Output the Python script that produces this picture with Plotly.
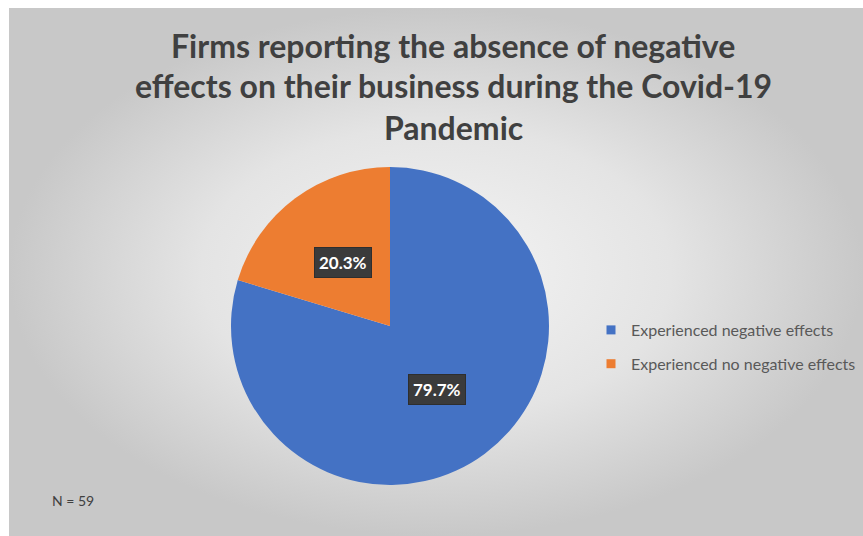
import math
import plotly.graph_objects as go

# Survey result: firms reporting effects of the pandemic on their business
labels = ["Experienced negative effects", "Experienced no negative effects"]
counts = [47, 12]
colors = ["#4472C4", "#ED7D31"]
title_lines = [
    "Firms reporting the absence of negative",
    "effects on their business during the Covid-19",
    "Pandemic",
]

W, H = 863, 536
total = sum(counts)

fig = go.Figure()

# Chart area background: light centre fading to grey edges
fig.add_trace(go.Scatter(
    x=[9, 863, 863, 9, 9], y=[8, 8, 536, 536, 8],
    mode="lines", line=dict(width=0), fill="toself",
    fillgradient=dict(type="radial",
                      colorscale=[[0, "#f4f4f4"], [0.55, "#e4e4e4"], [1, "#c8c8c8"]]),
    hoverinfo="skip", showlegend=False, xaxis="x", yaxis="y",
))

# Pie
dom_x = [231 / W, 549 / W]
dom_y = [51 / H, 369 / H]
fig.add_trace(go.Pie(
    labels=labels, values=counts, sort=False, direction="clockwise", rotation=0,
    marker=dict(colors=colors, line=dict(width=0)),
    textinfo="none", hoverinfo="label+percent", showlegend=False,
    domain=dict(x=dom_x, y=dom_y),
))

# Legend entries
for lab, col in zip(labels, colors):
    fig.add_trace(go.Scatter(
        x=[None], y=[None], mode="markers", name=lab, legendgroup=lab,
        marker=dict(symbol="square", size=9, color=col),
    ))

# Percentage labels in dark boxes at half the radius of each slice
cx = (dom_x[0] + dom_x[1]) / 2
cy = (dom_y[0] + dom_y[1]) / 2
radius_px = min((dom_x[1] - dom_x[0]) * W, (dom_y[1] - dom_y[0]) * H) / 2
cum = 0
annotations = []
for v in counts:
    mid = (cum + v / 2) / total * 2 * math.pi
    cum += v
    px = cx + 0.5 * radius_px * math.sin(mid) / W
    py = cy + 0.5 * radius_px * math.cos(mid) / H
    annotations.append(dict(
        x=px, y=py, xref="paper", yref="paper",
        text=f"<b>{v / total * 100:.1f}%</b>",
        xanchor="center", yanchor="middle",
        showarrow=False, font=dict(family="Lato", size=17, color="white"),
        bgcolor="#3b3b3b", bordercolor="#2e2e2e", borderwidth=1, borderpad=4,
    ))

# Title lines
for i, line in enumerate(title_lines):
    annotations.append(dict(
        x=453 / W, y=1 - (45 + 41 * i) / H, xref="paper", yref="paper",
        text=f"<b>{line}</b>", showarrow=False, xanchor="center", yanchor="middle",
        font=dict(family="Lato", size=32, color="#404040"),
    ))

annotations.append(dict(
    x=50 / W, y=1 - 500 / H, xref="paper", yref="paper",
    xanchor="left", yanchor="middle",
    text=f"N = {total}", showarrow=False,
    font=dict(family="Lato", size=14, color="#404040"),
))

fig.update_layout(
    width=W, height=H, autosize=False,
    margin=dict(l=0, r=0, t=0, b=0, pad=0),
    paper_bgcolor="white", plot_bgcolor="rgba(0,0,0,0)",
    xaxis=dict(range=[0, W], visible=False, domain=[0, 1], fixedrange=True),
    yaxis=dict(range=[H, 0], visible=False, domain=[0, 1], fixedrange=True),
    showlegend=True,
    legend=dict(x=591 / W, y=1 - 347 / H, xanchor="left", yanchor="middle",
                font=dict(family="Lato", size=16, color="#595959"),
                tracegroupgap=10, bgcolor="rgba(0,0,0,0)", itemclick=False),
    annotations=annotations,
)

fig.write_html("out.html")
